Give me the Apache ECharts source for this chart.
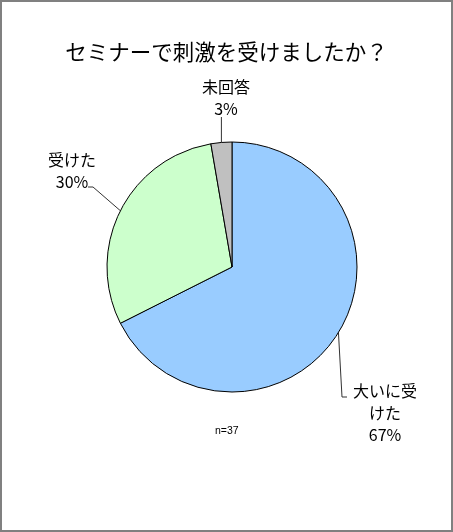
<!DOCTYPE html>
<html>
<head>
<meta charset="utf-8">
<script src="https://cdn.jsdelivr.net/npm/echarts@6/dist/echarts.min.js"></script>
<style>
  html, body { margin: 0; padding: 0; background: #fff; }
  #chart { width: 453px; height: 532px; box-sizing: border-box; border: 2px solid #808080; }
</style>
</head>
<body>
<div id="chart"></div>
<script>
// 回答データ (n=37)
const categories = ["大いに受けた", "受けた", "未回答"]
const counts = [25, 11, 1]
const colors = ["#99CCFF", "#CCFFCC", "#C0C0C0"]
const titleText = "セミナーで刺激を受けましたか？"
const noteText = "n=37"

// ラベル配置 (中心座標) と引き出し線の折れ点
const labelPos = [[383, 411], [70, 169], [224, 96]]
const lineBend = [[[340, 395], [345, 395]], [[91, 185], [86, 185]], [[null, 115]]]

const chart = echarts.init(document.getElementById("chart"))

const option = {
  backgroundColor: "#fff",
  animation: false,
  title: [
    {
      text: titleText,
      left: "center",
      top: 34,
      textStyle: {
        fontFamily: "Noto Sans CJK JP",
        fontSize: 21.5,
        fontWeight: "normal",
        color: "#000"
      }
    },
    {
      text: noteText,
      left: 208,
      top: 419,
      textStyle: {
        fontFamily: "Liberation Sans",
        fontSize: 10.5,
        fontWeight: "normal",
        color: "#000"
      }
    }
  ],
  series: [
    {
      type: "pie",
      center: [230, 265],
      radius: 125,
      startAngle: 90,
      clockwise: true,
      percentPrecision: 0,
      data: categories.map((name, i) => ({
        name: name,
        value: counts[i],
        itemStyle: { color: colors[i] }
      })),
      itemStyle: { borderColor: "#000", borderWidth: 1 },
      emphasis: { disabled: true },
      label: {
        show: true,
        position: "outside",
        formatter: "{b}\n{d}%",
        fontFamily: "Noto Sans CJK JP",
        fontSize: 16,
        lineHeight: 22,
        color: "#000",
        width: 70,
        overflow: "break",
        align: "center"
      },
      labelLine: {
        show: true,
        lineStyle: { color: "#333", width: 1 }
      },
      labelLayout: function (params) {
        const i = params.dataIndex
        const start = params.labelLinePoints[0]
        const pts = [start]
        lineBend[i].forEach(p => {
          if (p[0] === null) pts.push([start[0], p[1]])
          else pts.push(p)
        })
        return {
          x: labelPos[i][0],
          y: labelPos[i][1],
          align: "center",
          verticalAlign: "middle",
          labelLinePoints: pts
        }
      }
    }
  ]
}

chart.setOption(option)

window.onresize = () => {
  chart.resize()
}
</script>
</body>
</html>
